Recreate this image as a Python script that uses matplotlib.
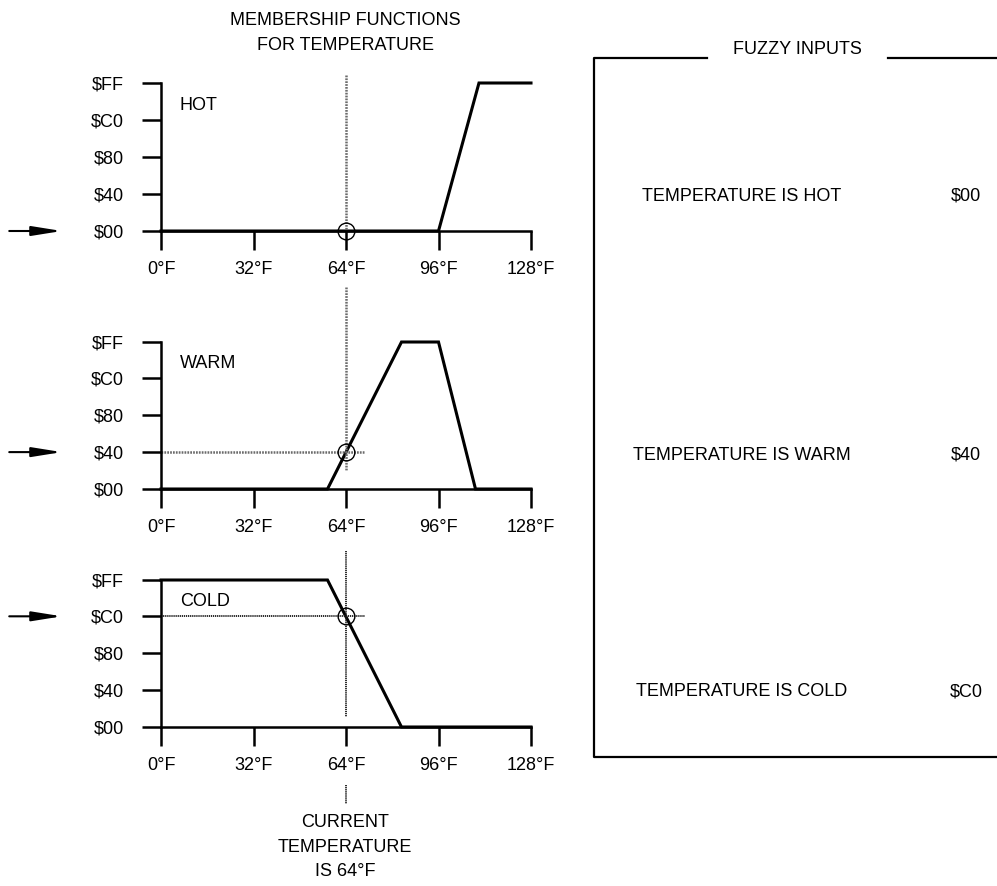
import matplotlib
matplotlib.use('Agg')
import matplotlib.pyplot as plt

plt.rcParams['font.family'] = ['Liberation Sans', 'DejaVu Sans']
plt.rcParams['font.size'] = 13
plt.rcParams['text.parse_math'] = False

# membership functions (temperature in F, membership 0..255)
x_ticks = [0, 32, 64, 96, 128]
x_labels = ['0°F', '32°F', '64°F', '96°F', '128°F']
y_ticks = [0, 64, 128, 192, 255]
y_labels = ['$00', '$40', '$80', '$C0', '$FF']

names = ['HOT', 'WARM', 'COLD']
hot_x = [0, 96, 110, 128]
hot_y = [0, 0, 255, 255]
warm_x = [0, 57.6, 83.2, 96, 108.8, 128]
warm_y = [0, 0, 255, 255, 0, 0]
cold_x = [0, 57.6, 83.2, 128]
cold_y = [255, 255, 0, 0]
curves = [(hot_x, hot_y), (warm_x, warm_y), (cold_x, cold_y)]

current_temp = 64
memberships = [0x00, 0x40, 0xC0]
fuzzy_labels = ['TEMPERATURE IS HOT', 'TEMPERATURE IS WARM', 'TEMPERATURE IS COLD']
fuzzy_values = ['$00', '$40', '$C0']

W, H = 997, 886
fig = plt.figure(figsize=(W / 100, H / 100), dpi=100)

# pixel layout of the three small plots (top, bottom of each)
rows = [(83, 231), (342, 489), (580, 727)]
left_px, right_px = 161, 531

# dotted guide segments, in data units of each axes
vlines = [[(269, 0)], [(351, 33)], [(305, 17), (-100, -134)]]
dot_colors = ['0.42', '0.42', '0.1']

axes = []
for i, (top, bot) in enumerate(rows):
    ax = fig.add_axes([left_px / W, 1 - bot / H, (right_px - left_px) / W, (bot - top) / H])
    ax.set_xlim(0, 128)
    ax.set_ylim(0, 255)
    ax.patch.set_visible(False)
    for s in ['top', 'right']:
        ax.spines[s].set_visible(False)
    for s in ['left', 'bottom']:
        ax.spines[s].set_linewidth(1.8)
    ax.set_xticks(x_ticks)
    ax.set_xticklabels(x_labels)
    ax.set_yticks(y_ticks)
    ax.set_yticklabels(y_labels)
    ax.tick_params(axis='x', direction='out', length=13.5, width=1.8, pad=8)
    ax.tick_params(axis='y', direction='out', length=13.5, width=1.8, pad=13)

    cx, cy = curves[i]
    ax.plot(cx, cy, color='black', lw=2.2, clip_on=False, solid_joinstyle='miter')

    lw_dot = 1.8 if i < 2 else 1.3
    for y0, y1 in vlines[i]:
        ax.plot([current_temp, current_temp], [y0, y1], color=dot_colors[i],
                lw=lw_dot, ls=(0, (0.7, 0.45)), clip_on=False)
    if memberships[i] > 0:
        ax.plot([0, 70.6], [memberships[i]] * 2, color=dot_colors[i],
                lw=lw_dot, ls=(0, (0.7, 0.45)), clip_on=False)

    ax.plot([current_temp], [memberships[i]], 'o', mfc='none', mec='black',
            ms=12, mew=1.0, clip_on=False)

    ax.text(6.5, 217, names[i], ha='left', va='center')

    ax.annotate('', xy=(-34.3, memberships[i]), xytext=(-52.5, memberships[i]),
                xycoords='data', annotation_clip=False,
                arrowprops=dict(arrowstyle='-|>,head_length=1.0,head_width=0.16',
                                color='black', lw=1.5, mutation_scale=18,
                                shrinkA=0, shrinkB=0))
    axes.append(ax)

fig.text(345 / W, 1 - 33 / H, 'MEMBERSHIP FUNCTIONS\nFOR TEMPERATURE',
         ha='center', va='center', linespacing=1.6)
fig.text(345 / W, 1 - 847 / H, 'CURRENT\nTEMPERATURE\nIS 64°F',
         ha='center', va='center', linespacing=1.6)

# right panel: fuzzy inputs box
ov = fig.add_axes([0, 0, 1, 1])
ov.set_xlim(0, W)
ov.set_ylim(H, 0)
ov.axis('off')
ov.patch.set_visible(False)
ov.plot([707, 594, 594, W], [58, 58, 757, 757], color='black', lw=1.6)
ov.plot([888, W], [58, 58], color='black', lw=1.6)
ov.text(797, 49, 'FUZZY INPUTS', ha='center', va='center')
for lab, val, yp in zip(fuzzy_labels, fuzzy_values, [196, 455, 692]):
    ov.text(742, yp, lab, ha='center', va='center')
    ov.text(966, yp, val, ha='center', va='center')

fig.savefig('out.png', dpi=100)
